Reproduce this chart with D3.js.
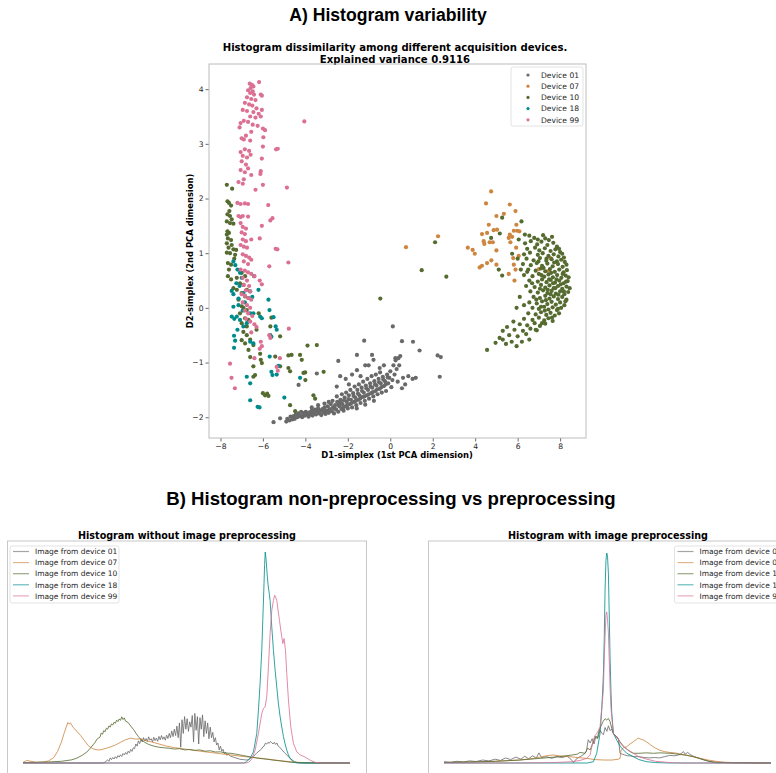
<!DOCTYPE html>
<html>
<head>
<meta charset="utf-8">
<script src="https://cdn.jsdelivr.net/npm/d3@7"></script>
<style>
  body { margin: 0; background: #fff; }
  svg text { font-family: "DejaVu Sans", sans-serif; }
  .head { font-family: "Liberation Sans", Arial, sans-serif !important; font-weight: bold; }
</style>
</head>
<body>
<div id="chart"></div>
<script>
//Device names and colours
var devices = ["01", "07", "10", "18", "99"];
var colors = ["#696969", "#cd853f", "#556b2f", "#008b8b", "#db7093"];

//PCA scatter, [D1, D2] per image
var d01 = [[-5.50,-2.09],[-5.19,-2.02],[-4.90,-2.08],[-4.85,-2.03],[-4.75,-2.06],[-4.70,-1.99],[-4.62,-2.04],[-4.55,-1.98],[-4.50,-2.03],[-4.45,-1.95],[-4.38,-2.00],[-4.32,-1.93],[-4.25,-1.97],[-4.20,-1.90],[-4.15,-2.00],[-4.10,-1.94],[-4.02,-1.97],[-3.98,-1.90],[-3.92,-1.95],[-3.85,-1.99],[-3.80,-1.91],[-3.75,-1.95],[-3.70,-1.88],[-3.66,-1.97],[-3.60,-1.92],[-3.55,-1.86],[-3.50,-1.95],[-3.45,-1.90],[-3.40,-1.84],[-3.35,-1.93],[-3.30,-1.88],[-3.25,-1.96],[-3.20,-1.85],[-3.15,-1.91],[-3.10,-1.82],[-3.05,-1.94],[-3.00,-1.88],[-2.95,-1.80],[-2.90,-1.92],[-2.85,-1.85],[-2.80,-1.76],[-2.75,-1.89],[-2.70,-1.82],[-2.65,-1.93],[-2.60,-1.78],[-2.55,-1.86],[-2.50,-1.72],[-2.45,-1.90],[-2.40,-1.80],[-2.35,-1.68],[-2.30,-1.85],[-2.25,-1.76],[-2.20,-1.88],[-2.15,-1.64],[-2.10,-1.80],[-2.05,-1.72],[-2.00,-1.84],[-1.95,-1.60],[-1.90,-1.76],[-1.85,-1.68],[-1.80,-1.82],[-1.75,-1.56],[-1.70,-1.72],[-1.65,-1.64],[-1.60,-1.78],[-1.55,-1.50],[-1.50,-1.68],[-1.45,-1.60],[-1.40,-1.74],[-1.35,-1.46],[-1.30,-1.63],[-1.25,-1.55],[-1.20,-1.70],[-1.15,-1.42],[-1.10,-1.60],[-1.05,-1.50],[-1.00,-1.66],[-0.95,-1.38],[-0.90,-1.56],[-0.85,-1.46],[-0.80,-1.62],[-0.75,-1.34],[-0.70,-1.52],[-0.65,-1.42],[-0.60,-1.58],[-0.55,-1.30],[-0.50,-1.48],[-0.45,-1.38],[-0.40,-1.55],[-0.35,-1.26],[-0.30,-1.43],[-0.25,-1.34],[-0.20,-1.52],[-0.15,-1.22],[-0.10,-1.38],[-0.05,-1.28],[0.00,-1.16],[0.05,-1.45],[0.10,-1.32],[0.15,-1.05],[0.20,-1.22],[0.25,-0.96],[0.30,-1.12],[0.38,-0.92],[0.42,-1.05],[0.47,-0.88],[0.55,-1.47],
  [-4.60,-2.00],[-4.30,-1.98],[-4.05,-1.92],[-3.88,-1.93],[-3.62,-1.89],[-3.38,-1.90],[-3.12,-1.87],[-2.88,-1.88],[-2.62,-1.84],[-2.42,-1.77],[-2.22,-1.82],[-2.02,-1.78],[-1.82,-1.74],[-1.62,-1.70],[-1.42,-1.66],[-1.22,-1.62],[-1.02,-1.58],[-0.82,-1.54],[-0.62,-1.49],[-0.42,-1.45],[-0.22,-1.40],[-2.72,-1.70],[-2.52,-1.62],[-2.28,-1.58],[-2.08,-1.55],[-1.88,-1.50],[-1.68,-1.44],[-1.48,-1.40],[-1.28,-1.35],[-1.08,-1.30],[-0.88,-1.25],[-0.68,-1.22],[-0.48,-1.18],[-3.10,-1.75],[-2.90,-1.72],[-3.70,-1.82],[-3.40,-1.78],
  [-2.33,-1.73],[-1.97,-1.67],[-1.73,-1.61],[-1.52,-1.57],[-1.33,-1.52],[-1.13,-1.47],[-0.93,-1.44],[-0.72,-1.40],[-0.53,-1.36],[-0.33,-1.31],[-0.12,-1.27],[-2.18,-1.69],[-1.58,-1.84],[-1.18,-1.77],[-0.77,-1.70],
  [-4.32,-1.41],[-3.46,-1.20],[-2.52,-1.44],[-2.36,-1.25],[-2.10,-1.30],[-1.95,-1.40],[-1.80,-1.22],[-1.57,-1.14],[-1.40,-1.25],[-1.57,-0.86],[-1.18,-1.05],[-1.02,-1.05],[-0.86,-0.86],[-0.79,-0.95],[-1.23,-0.60],[-0.50,-1.10],[-0.30,-1.05],[0.12,-0.34],[0.24,-0.92],[0.55,-0.61],[1.07,-0.62],[1.38,-0.78],[2.23,-0.87],[2.38,-0.90],[2.33,-1.26],[0.60,-1.28],[0.85,-1.25],[1.05,-1.30],[1.20,-1.28],[0.70,-1.40],[0.35,-1.35],[-2.45,-0.97]];

var d07 = [[4.75,2.13],[4.51,1.91],[5.63,1.89],[5.90,1.77],[5.00,1.68],[5.35,1.72],[4.64,1.52],[5.94,1.52],[4.87,1.42],[5.03,1.43],[4.56,1.37],[4.32,1.35],[5.82,1.41],[5.98,1.41],[6.08,1.40],[5.63,1.34],[5.74,1.30],[5.58,1.28],[4.40,1.22],[4.43,1.17],[4.68,1.20],[4.83,1.20],[5.66,1.20],[3.65,1.10],[3.88,1.06],[3.98,0.99],[5.00,1.05],[5.93,1.10],[5.79,0.91],[6.05,0.95],[4.76,0.87],[4.56,0.82],[4.32,0.77],[4.21,0.74],[5.00,0.79],[5.82,0.79],[5.90,0.70],[5.58,0.62],[5.85,0.50],[7.55,0.91],[7.42,0.67],[7.00,0.71],[0.74,1.11],[2.25,1.31]];

var d10 = [[6.55,1.32],[6.78,1.28],[7.47,1.24],[7.62,1.30],[7.30,1.27],
  [6.35,1.18],[6.62,1.22],[6.92,1.16],[7.12,1.21],[7.40,1.15],[7.68,1.19],[7.85,1.12],
  [6.45,1.08],[6.82,1.10],[7.02,1.05],[7.28,1.09],[7.55,1.04],[7.78,1.07],[8.00,1.02],
  [6.30,0.98],[6.58,1.01],[6.95,0.97],[7.18,1.00],[7.45,0.95],[7.70,0.98],[7.92,0.94],[8.10,0.99],
  [6.42,0.90],[6.75,0.87],[7.05,0.91],[7.35,0.86],[7.60,0.89],[7.85,0.85],[8.05,0.88],[8.22,0.84],
  [6.25,0.80],[6.62,0.78],[6.90,0.82],[7.15,0.77],[7.40,0.81],[7.65,0.76],[7.90,0.80],[8.12,0.75],[8.30,0.79],
  [6.50,0.70],[6.85,0.68],[7.10,0.72],[7.30,0.67],[7.52,0.71],[7.75,0.66],[7.96,0.70],[8.16,0.65],[8.32,0.69],
  [6.30,0.60],[6.70,0.58],[7.00,0.62],[7.25,0.57],[7.45,0.61],[7.66,0.56],[7.86,0.60],[8.06,0.55],[8.26,0.59],[8.40,0.56],
  [6.55,0.50],[6.95,0.48],[7.15,0.52],[7.36,0.47],[7.56,0.51],[7.76,0.46],[7.96,0.50],[8.16,0.45],[8.36,0.49],
  [6.40,0.40],[6.80,0.38],[7.10,0.42],[7.30,0.37],[7.50,0.41],[7.70,0.36],[7.90,0.40],[8.10,0.35],[8.30,0.39],[8.45,0.36],
  [6.60,0.30],[6.95,0.28],[7.20,0.32],[7.40,0.27],[7.60,0.31],[7.80,0.26],[8.00,0.30],[8.20,0.25],[8.38,0.29],
  [6.75,0.20],[7.05,0.18],[7.30,0.22],[7.50,0.17],[7.70,0.21],[7.90,0.16],[8.10,0.20],[8.30,0.15],
  [6.55,0.10],[6.90,0.08],[7.15,0.12],[7.40,0.07],[7.60,0.11],[7.80,0.06],[8.00,0.10],[8.20,0.05],
  [6.70,0.00],[7.00,-0.02],[7.25,0.02],[7.45,-0.03],[7.65,0.01],[7.85,-0.04],[8.05,0.00],
  [6.50,-0.10],[6.85,-0.12],[7.10,-0.08],[7.35,-0.13],[7.55,-0.09],[7.75,-0.14],[7.95,-0.10],
  [6.30,-0.20],[6.70,-0.22],[7.00,-0.18],[7.25,-0.23],[7.45,-0.19],[7.65,-0.24],
  [6.10,-0.30],[6.45,-0.32],[6.80,-0.28],[7.05,-0.33],[7.30,-0.29],
  [5.85,-0.40],[6.25,-0.42],[6.60,-0.38],[6.90,-0.41],
  [5.60,-0.50],[6.00,-0.52],[6.40,-0.48],
  [4.96,-0.64],[5.30,-0.58],[5.72,-0.62],[4.56,-0.77],
  [7.22,0.73],[7.58,0.64],[7.83,0.52],[8.03,0.43],[7.42,0.33],[7.67,0.45],[7.92,0.24],[8.25,0.12],[7.12,0.60],[7.36,0.90],[7.72,0.83],[8.18,0.92],[7.05,0.35],[6.88,0.15],[7.28,-0.05],[7.62,-0.18],[7.90,-0.02],[8.28,0.48],[8.12,0.62],[7.48,0.52],[6.98,0.85],[6.68,0.45],[6.45,0.66],[6.85,-0.40],[7.15,-0.28],[6.55,-0.58],[6.20,-0.62],[5.95,-0.70],[5.45,-0.66],[5.15,-0.55],[6.95,1.25],[7.20,1.33],[7.95,1.08],[8.18,0.30],[7.77,0.36],[7.55,0.25],[7.33,0.14],[7.10,0.02],
  [5.27,1.65],[5.16,1.36],[6.18,1.58],[6.34,1.34],[4.75,1.28],[5.74,0.99],[5.11,0.70],[5.27,0.59],[6.05,1.25],[6.00,0.90],[6.15,0.70],[6.10,0.20],[6.30,0.05],[5.95,0.00],[5.80,-0.25],[5.50,-0.35],[5.30,-0.42],
  [2.11,1.20],[1.48,0.69],[2.64,0.57],[-0.47,0.17],
  [-7.70,2.25],[-7.45,2.18],[-7.67,1.95],[-7.60,1.92],[-7.50,1.87],[-7.58,1.77],[-7.67,1.71],[-7.55,1.68],[-7.47,1.62],[-7.70,1.58],[-7.55,1.55],[-7.39,1.54],[-7.67,1.40],[-7.70,1.34],[-7.60,1.37],[-7.65,1.27],[-7.50,1.24],[-7.70,1.18],[-7.47,1.15],[-7.39,1.07],[-7.26,1.06],[-7.70,1.01],[-7.55,1.00],[-7.31,0.97],[-7.65,0.82],[-7.50,0.79],[-7.60,0.70],[-7.65,0.58],[-7.50,0.52],[-7.00,0.64],[-6.84,0.58],[-7.23,0.55],[-7.08,0.45],[-6.92,0.42],[-7.39,0.36],[-7.23,0.33],[-6.76,0.33],[-7.00,0.27],[-6.84,0.21],[-6.68,0.18],[-7.15,0.15],[-7.00,0.03],[-6.92,0.00],[-6.76,-0.04],[-7.08,-0.10],[-6.84,-0.19],[-6.68,-0.22],[-7.00,-0.28],[-6.76,-0.34],[-6.92,-0.44],[-6.76,-0.50],[-7.00,-0.59],[-6.84,-0.65],[-6.60,-0.58],[-6.68,-0.77],[-6.45,-0.68],[-6.60,-0.90],[-6.13,-0.84],[-6.10,-0.95],[-6.05,-1.01],[-6.45,-1.07],[-6.37,-1.23],[-6.45,-1.26],[-5.60,-0.18],[-5.65,-0.34],[-5.19,-0.52],[-5.42,-0.89],[-5.19,-1.07],[-4.80,-0.87],[-4.65,-0.86],[-4.25,-0.86],[-4.17,-0.95],[-3.90,-0.69],[-3.46,-0.68],[-4.01,-1.18],[-4.09,-1.19],[-6.00,-1.56],[-5.80,-1.57],[-4.72,-1.78],[-4.48,-1.89],[-3.62,-1.60],[-3.54,-1.66],[-5.90,-1.60],[-5.74,-1.61],[-4.80,-1.10],[-4.72,-1.16],[-3.14,-1.17],[-4.00,-1.32],[-6.30,-0.40],[-6.20,-0.10],[-7.35,0.90],[-7.62,1.10]];

var d18 = [[-7.39,0.85],[-7.30,0.78],[-7.20,0.70],[-7.47,0.31],[-7.39,0.25],[-7.15,0.17],[-7.39,0.02],[-7.47,-0.16],[-7.35,-0.20],[-7.23,-0.16],[-7.08,-0.22],[-7.36,-0.51],[-7.31,-0.60],[-7.36,-0.73],[-6.92,0.27],[-7.08,0.64],[-7.00,0.55],[-6.60,0.30],[-6.50,0.20],[-6.42,0.58],[-6.21,0.33],[-6.60,-0.10],[-6.45,-0.10],[-6.13,-0.16],[-6.05,-0.19],[-6.92,-0.34],[-6.76,-0.28],[-6.60,-0.62],[-6.45,-0.65],[-5.74,0.15],[-5.69,-0.04],[-5.50,-0.17],[-5.40,-0.34],[-5.35,-0.40],[-5.65,-0.50],[-5.60,-0.53],[-5.68,-0.89],[-5.60,-1.17],[-5.55,-1.23],[-5.35,-1.22],[-5.27,-1.06],[-6.76,-1.26],[-6.60,-1.38],[-6.60,-1.69],[-6.25,-1.81],[-6.16,-1.82],[-4.99,-1.64],[-4.25,-1.28],[-7.10,0.40],[-7.25,0.45],[-6.95,-0.05],[-7.20,-0.40],[-6.85,0.10],[-7.15,0.05]];

var d99 = [[-6.62,4.10],[-6.52,4.08],[-6.45,4.05],[-6.58,4.02],[-6.70,3.98],[-6.48,3.96],[-6.60,3.93],[-6.42,3.90],[-6.18,4.13],[-6.10,3.90],[-6.05,3.88],[-6.75,3.85],[-6.55,3.82],[-6.35,3.80],[-6.85,3.75],[-6.65,3.72],[-6.50,3.70],[-6.30,3.65],[-6.95,3.62],[-6.75,3.60],[-6.45,3.58],[-6.20,3.55],[-6.05,3.62],[-6.60,3.50],[-6.35,3.48],[-6.10,3.50],[-6.90,3.42],[-6.70,3.40],[-6.48,3.35],[-6.25,3.33],[-7.05,3.38],[-7.10,3.30],[-6.00,3.28],[-5.90,3.25],[-6.55,3.22],[-6.80,3.15],[-7.00,3.10],[-6.90,3.08],[-6.60,3.06],[-5.98,3.12],[-6.00,2.95],[-5.38,2.90],[-5.30,2.91],[-6.85,2.90],[-6.65,2.87],[-7.05,2.85],[-6.95,2.78],[-6.75,2.75],[-6.58,2.80],[-6.05,2.73],[-7.00,2.68],[-6.80,2.62],[-6.70,2.55],[-7.05,2.52],[-6.85,2.48],[-6.10,2.50],[-6.12,2.45],[-6.55,2.43],[-6.90,2.35],[-7.15,2.30],[-6.95,2.27],[-6.00,2.25],[-6.35,2.16],[-4.87,2.20],[-4.05,3.41],
  [-7.20,1.92],[-7.05,1.90],[-6.85,1.91],[-6.70,1.90],[-5.75,1.88],[-7.15,1.68],[-7.05,1.66],[-6.95,1.68],[-6.70,1.67],[-5.65,1.60],[-5.55,1.64],[-6.05,1.50],[-7.05,1.55],[-6.95,1.48],[-6.80,1.45],[-7.00,1.38],[-6.85,1.35],[-6.95,1.25],[-6.80,1.22],[-6.55,1.25],[-6.15,1.27],[-7.05,1.15],[-6.90,1.12],[-6.75,1.10],[-5.40,1.08],[-5.32,1.07],[-6.95,0.98],[-6.80,0.95],[-6.65,0.92],[-6.55,0.88],[-6.90,0.85],[-6.70,0.80],[-5.70,0.76],[-4.80,0.83],[-7.05,0.70],[-6.85,0.68],[-6.70,0.65],[-6.55,0.62],[-6.40,0.58],[-6.95,0.55],[-6.75,0.50],[-6.15,0.50],[-6.05,0.43],[-6.90,0.42],[-6.65,0.40],[-6.80,0.32],[-6.60,0.30],[-7.00,0.25],[-6.85,0.22],[-6.70,0.18],[-6.55,0.15],[-6.95,0.10],[-6.75,0.05],[-6.60,0.00],[-6.85,-0.05],[-6.70,-0.10],[-6.50,-0.15],[-6.80,-0.20],[-6.60,-0.25],[-6.40,-0.30],[-6.30,-0.35],[-4.78,-0.38],[-6.55,-0.45],[-5.70,-0.50],[-5.65,-0.55],[-6.10,-0.62],[-6.05,-0.70],[-6.15,-0.75],[-7.55,-1.02],[-7.48,-1.28],[-7.32,-1.47],[-5.30,-1.15],[-5.35,-1.08],[-6.40,-0.92],[-5.20,-0.92]];

var scatterSets = [d01, d07, d10, d18, d99];
var xTicks = [-8, -6, -4, -2, 0, 2, 4, 6, 8];
var yTicks = [-2, -1, 0, 1, 2, 3, 4];

//Histograms, [grey level, frequency] (frequency relative to the tallest peak = 100)
var rawHist = [
  [[0,0],[62,0],[64,0.4],[66,1.5],[67,0.8],[68,2.4],[69,1.6],[70,2.6],[71,1.9],[72,3.0],[73,2.2],[74,3.5],[75,2.8],[76,3.9],[77,3.1],[78,4.5],[79,3.8],[80,5.0],[81,4.1],[82,5.6],[83,4.8],[84,6.4],[85,5.5],[86,7.2],[87,6.8],[88,9.0],[89,8.0],[90,10.5],[91,9.2],[92,11.2],[93,10.0],[94,12.0],[95,10.4],[96,11.6],[97,10.2],[98,12.4],[99,10.8],[100,11.5],[101,10.0],[102,12.2],[103,10.6],[104,11.8],[105,10.3],[106,12.6],[107,11.0],[108,13.0],[109,11.2],[110,12.4],[111,10.8],[112,13.2],[113,11.6],[114,14.0],[115,12.0],[116,15.2],[117,12.5],[118,16.0],[119,13.0],[120,17.5],[121,12.0],[122,19.0],[123,7.5],[124,20.5],[125,14.0],[126,22.0],[127,16.0],[128,21.0],[129,15.0],[130,19.5],[131,17.0],[132,22.5],[133,10.0],[134,23.5],[135,15.5],[136,22.0],[137,9.0],[138,21.5],[139,16.0],[140,22.8],[141,12.5],[142,20.0],[143,14.0],[144,19.0],[145,11.5],[146,17.0],[147,12.0],[148,14.5],[149,10.0],[150,12.0],[151,8.5],[152,9.5],[153,6.2],[154,8.0],[155,5.6],[156,6.5],[157,4.4],[158,5.2],[159,3.6],[160,4.2],[162,3.2],[164,2.8],[166,2.4],[168,2.0],[170,1.7],[172,1.6],[174,1.4],[176,1.6],[178,2.4],[180,3.2],[182,4.6],[184,5.6],[186,6.6],[187,7.6],[188,8.0],[189,9.4],[190,9.0],[191,9.8],[192,9.3],[193,10.2],[194,9.6],[195,9.0],[196,9.8],[197,8.8],[198,9.5],[199,8.0],[200,7.6],[202,6.2],[204,4.8],[206,3.6],[208,2.4],[210,1.4],[212,0.6],[214,0.2],[218,0],[255,0]],
  [[0,0.3],[3,1.2],[6,0.8],[10,0.4],[16,0.5],[20,1.0],[24,2.6],[27,5.5],[30,10],[32,14],[34,17.5],[35,19.2],[36,18.5],[37,19],[39,17],[42,15],[45,13],[48,10.5],[51,8.2],[54,6.9],[57,6.3],[60,6.2],[64,6.8],[68,7.6],[72,8.5],[76,9.8],[80,11],[84,11.8],[88,11.3],[92,11.5],[96,10.5],[100,10],[106,9],[112,8],[118,7.3],[124,6.8],[130,6.3],[138,5.6],[146,5],[154,4.4],[162,3.8],[170,3.2],[178,2.7],[186,2.2],[194,1.6],[202,1.0],[210,0.5],[218,0.2],[230,0.05],[255,0]],
  [[0,0.2],[10,0.3],[20,0.5],[30,0.8],[38,1.5],[42,2.3],[46,3.6],[50,5.3],[53,7.4],[56,9.6],[58,11.5],[60,12.2],[61,14.2],[62,13.6],[63,15.4],[64,14.8],[65,16.5],[66,16],[67,17.6],[68,17],[69,18.5],[70,18],[71,19.3],[72,18.8],[73,20.3],[74,19.6],[75,20.9],[76,20.2],[77,21.9],[78,20.6],[79,21.4],[80,19.8],[82,19.2],[84,17.5],[86,16],[88,14.2],[90,12.5],[92,11],[95,9.8],[98,8.8],[102,8],[106,7.5],[110,7.2],[114,7],[118,6.6],[122,6.8],[126,6.2],[130,6.4],[134,6],[138,6.2],[142,5.6],[146,5.8],[150,5.2],[154,5.3],[158,4.7],[162,4.6],[166,4.2],[172,3.5],[178,2.8],[184,2.2],[190,1.8],[196,1.3],[202,0.9],[208,0.4],[214,0.15],[225,0.05],[255,0]],
  [[0,0],[172,0],[174,0.4],[177,2.2],[179.7,5.3],[182.3,14],[183.6,25],[184.9,37.7],[186.2,53.4],[187,68],[187.8,82],[188.4,94],[188.9,100],[189.5,97],[190.3,90],[191.2,84],[192.1,80],[192.7,77],[194,64.5],[195.3,53.4],[196.6,44],[197.9,36],[199.2,28],[200.5,22],[201.8,17],[203.1,12.5],[204.4,9],[205.7,6.1],[207,3.8],[208.3,2.2],[209.6,1.2],[210.9,0.5],[213,0.1],[216,0],[255,0]],
  [[0,0],[174,0],[175.8,0.3],[178.4,1.8],[181,6.1],[183.6,14],[186.2,23.5],[187.5,25.9],[188.8,26.6],[190.1,31.4],[191.4,45.6],[192.7,61.3],[194,72.4],[195.3,77],[196.2,79.5],[196.8,79],[197.9,77],[199,72],[200,67.6],[201,63],[201.8,59.8],[202.6,56.6],[203.6,59],[204.7,53.4],[205.7,42.4],[207,29.8],[208.8,17.2],[210.9,9.3],[213.5,5.3],[216.1,3.9],[220,2.8],[224,1.3],[228,0.3],[232,0],[255,0]]
];

var prepHist = [
  [[0,0.6],[5,0.3],[10,0.8],[15,0.5],[20,1.0],[25,0.7],[30,1.4],[35,1.0],[40,1.8],[44,1.2],[48,2.4],[52,1.6],[56,2.8],[60,1.8],[63,3.2],[66,2.0],[69,3.4],[72,2.4],[74,4.8],[76,2.6],[80,3.0],[84,2.2],[88,3.0],[92,2.6],[96,3.2],[99,1.8],[101,0.2],[103,1.8],[106,3.0],[109,4.0],[111,5.4],[112.5,11],[114,9.5],[115.5,11.5],[117,9],[118.5,12.8],[120,11.8],[121.7,15.6],[123,14.2],[124.3,13.4],[125.6,16.8],[127,15],[128.2,17.6],[129.5,15.4],[130.8,16],[132.1,14],[133.4,12.8],[134.7,12.5],[136,11.4],[137.3,4.6],[139,4.2],[141,3.8],[143,3.4],[145,3.4],[148,3.0],[152,3.0],[156,2.6],[160,2.4],[164,2.6],[168,2.4],[172,3.0],[176,3.6],[180,3.4],[184,4.0],[186.7,5.4],[188,4.2],[190,5.0],[192,4.0],[194.5,3.2],[198,2.4],[202,1.6],[207,0.8],[212,0.4],[220,0.2],[230,0.1],[255,0]],
  [[0,0.2],[20,0.4],[40,0.8],[59,1.4],[70,2.2],[80,3.4],[85,3.8],[90,3.4],[98,3.0],[104,2.6],[111,2.2],[118,1.6],[125,1.4],[131,1.4],[136,1.8],[137.3,2.2],[138,6],[140,7.2],[142.5,7.7],[145,9],[147.7,10.1],[150,11.2],[151.6,11.8],[153,11.4],[155,11.0],[158,10],[161,8.6],[165,7.0],[168.5,6.0],[172,5.4],[176,5.0],[180,4.8],[184,4.3],[189,3.8],[194,3.0],[200,2.2],[206,1.4],[212,0.8],[218,0.4],[225,0.2],[235,0.1],[255,0]],
  [[0,0.3],[20,0.5],[40,0.8],[59,1.4],[75,2.2],[90,3.0],[100,3.8],[104,4.2],[106,5.0],[110,4.6],[112,7],[114,6.2],[116,9.5],[118,12.5],[119.5,11.5],[121,15.6],[122.5,17.6],[124,19.6],[125.6,21],[126.9,20.4],[128.2,21.1],[129.5,19.6],[130.8,16.5],[132.1,14],[134.7,12.5],[137.3,10],[139.9,8],[142.5,6.6],[145,5.4],[147.7,4.6],[152,4.6],[158,4.8],[163.3,4.6],[168.5,4.8],[176.3,4.6],[182,4.2],[189.3,3.6],[194.5,3.0],[200,2.0],[204,1.2],[208,0.6],[212,0.2],[220,0.1],[255,0]],
  [[0,0],[112,0],[113.9,0.3],[116.5,0.6],[119.1,4.6],[121.7,14],[123,25],[124.3,42],[125,60],[125.6,82],[126.3,96],[126.9,99.5],[127.5,98],[128.2,90],[128.8,72],[129.5,50],[130.2,34],[130.8,24],[132.1,14],[134.7,10.9],[137.3,8],[139.9,6.2],[142.5,4.6],[147.7,3],[152,1.6],[158.1,0.6],[165,0.2],[175,0],[255,0]],
  [[0,0],[60,0],[85,0.2],[100,0.6],[106,1.2],[111.3,2.2],[113.9,3.8],[116.5,11],[117.8,13],[119.1,14],[120.4,15.4],[121.7,17.2],[123,26],[124.3,34.5],[125,50],[125.6,60],[126.3,70],[126.9,71.6],[127.5,68],[128.2,62],[128.8,50],[129.5,36],[130.2,26],[130.8,22],[132.1,14],[133.4,13],[134.7,12],[136,11.5],[137.3,9.3],[139.9,7.7],[142.5,6.6],[147.7,4.6],[152,3],[158.1,1.8],[165,0.8],[176.3,0.2],[185,0],[255,0]]
];

var W = 776, H = 773;
var svg = d3.select("#chart").append("svg")
  .attr("width", W).attr("height", H);

//Headers
svg.append("text").attr("class", "head")
  .attr("x", 388).attr("y", 21).attr("text-anchor", "middle")
  .style("font-size", "17.6px").text("A) Histogram variability");
svg.append("text").attr("class", "head")
  .attr("x", 391).attr("y", 505).attr("text-anchor", "middle")
  .style("font-size", "18.6px").text("B) Histogram non-preprocessing vs preprocessing");

//Scatter panel
var sx = d3.scaleLinear().domain([-8.54, 9.22]).range([209, 586]);
var sy = d3.scaleLinear().domain([-2.38, 4.46]).range([438, 64]);

svg.append("text").attr("x", 395).attr("y", 51).attr("text-anchor", "middle")
  .style("font-size", "10.1px").style("font-weight", "bold")
  .text("Histogram dissimilarity among different acquisition devices.");
svg.append("text").attr("x", 395).attr("y", 62.5).attr("text-anchor", "middle")
  .style("font-size", "10.1px").style("font-weight", "bold")
  .text("Explained variance 0.9116");

var xAxis = svg.append("g").attr("transform", "translate(0,438)")
  .call(d3.axisBottom(sx).tickValues(xTicks).tickFormat(d3.format("d")).tickSize(3.5).tickPadding(2));
var yAxis = svg.append("g").attr("transform", "translate(209,0)")
  .call(d3.axisLeft(sy).tickValues(yTicks).tickFormat(d3.format("d")).tickSize(3.5).tickPadding(2));
[xAxis, yAxis].forEach(function(a) {
  a.select(".domain").remove();
  a.selectAll("line").attr("stroke", "#444").attr("stroke-width", 0.8);
  a.selectAll("text").style("font-size", "7.6px").attr("fill", "#262626")
    .style("font-family", "DejaVu Sans");
});

svg.append("g").selectAll("g")
  .data(scatterSets).enter().append("g")
  .attr("fill", function(d, i) { return colors[i]; })
  .selectAll("circle")
  .data(function(d) { return d; }).enter().append("circle")
  .attr("cx", function(d) { return sx(d[0]); })
  .attr("cy", function(d) { return sy(d[1]); })
  .attr("r", 2.1);

svg.append("rect").attr("x", 209).attr("y", 64).attr("width", 377).attr("height", 374)
  .attr("fill", "none").attr("stroke", "#bcbcbc").attr("stroke-width", 1);

svg.append("text").attr("x", 397).attr("y", 458).attr("text-anchor", "middle")
  .style("font-size", "8.4px").style("font-weight", "bold")
  .text("D1-simplex (1st PCA dimension)");
svg.append("text").attr("transform", "translate(193,251) rotate(-90)")
  .attr("text-anchor", "middle")
  .style("font-size", "8.4px").style("font-weight", "bold")
  .text("D2-simplex (2nd PCA dimension)");

//Scatter legend
var sLeg = svg.append("g");
sLeg.append("rect").attr("x", 511).attr("y", 67).attr("width", 72).attr("height", 59)
  .attr("rx", 2).attr("fill", "#fff").attr("fill-opacity", 0.8)
  .attr("stroke", "#dcdcdc").attr("stroke-width", 0.8);
devices.forEach(function(dv, i) {
  var yy = 75 + i * 11.2;
  sLeg.append("circle").attr("cx", 528).attr("cy", yy).attr("r", 1.6).attr("fill", colors[i]);
  sLeg.append("text").attr("x", 541).attr("y", yy + 2.7)
    .style("font-size", "7.6px").attr("fill", "#262626").text("Device " + dv);
});

//Histogram panels
function histPanel(data, left, title, legendX) {
  var hx = d3.scaleLinear().domain([0, 255]).range([left + 15.5, left + 342.5]);
  var hy = d3.scaleLinear().domain([0, 100]).range([763, 552]);
  var g = svg.append("g");
  var line = d3.line().x(function(d) { return hx(d[0]); }).y(function(d) { return hy(d[1]); });
  g.selectAll("path.series").data(data).enter().append("path")
    .attr("class", "series")
    .attr("d", line)
    .attr("fill", "none")
    .attr("stroke", function(d, i) { return colors[i]; })
    .attr("stroke-opacity", 0.9)
    .attr("stroke-width", 0.9);
  g.append("rect").attr("x", left).attr("y", 541).attr("width", 359).attr("height", 233)
    .attr("fill", "none").attr("stroke", "#c8c8c8").attr("stroke-width", 1);
  g.append("text").attr("x", left + 179.5).attr("y", 539).attr("text-anchor", "middle")
    .style("font-size", "9.6px").style("font-weight", "bold").text(title);

  var lg = g.append("g");
  lg.append("rect").attr("x", legendX).attr("y", 546).attr("width", 109).attr("height", 57)
    .attr("rx", 2).attr("fill", "#fff").attr("fill-opacity", 0.8)
    .attr("stroke", "#dcdcdc").attr("stroke-width", 0.8);
  devices.forEach(function(dv, i) {
    var yy = 551.5 + i * 11.1;
    lg.append("line").attr("x1", legendX + 3).attr("x2", legendX + 19)
      .attr("y1", yy).attr("y2", yy)
      .attr("stroke", colors[i]).attr("stroke-opacity", 0.6).attr("stroke-width", 1.2);
    lg.append("text").attr("x", legendX + 25).attr("y", yy + 2.7)
      .style("font-size", "7.5px").attr("fill", "#262626").text("Image from device " + dv);
  });
}

histPanel(rawHist, 7.5, "Histogram without image preprocessing", 10);
histPanel(prepHist, 428.5, "Histogram with image preprocessing", 674.5);
</script>
</body>
</html>
